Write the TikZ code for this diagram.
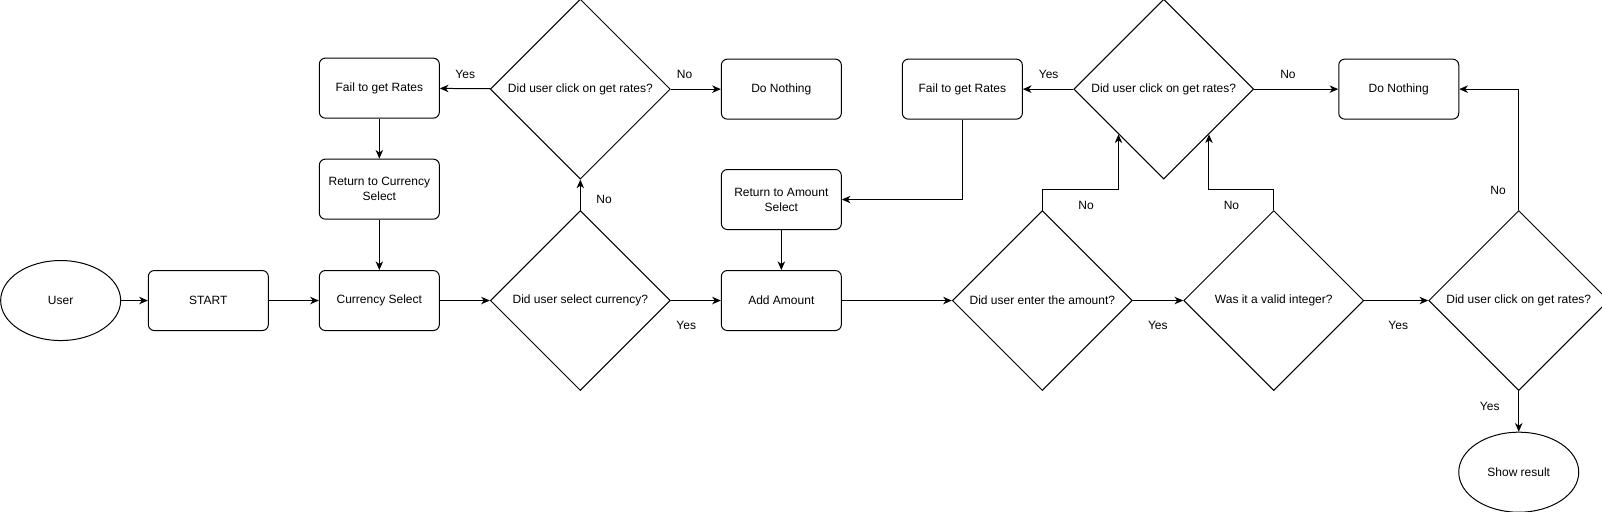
\documentclass[tikz,border=0pt]{standalone}
\usepackage{fontspec}
\setmainfont{Liberation Sans}
\usetikzlibrary{arrows.meta,positioning,shapes.geometric}

\begin{document}
\begin{tikzpicture}[>={Stealth[length=6.5pt,width=5.6pt,inset=2pt]}, line width=0.75pt, font=\fontsize{9pt}{11.25pt}\selectfont]
	\tikzstyle{rect}=[draw, rectangle, rounded corners=4.5pt, minimum width=90pt, minimum height=45pt, align=center, inner sep=0pt]
	\tikzstyle{circ}=[draw, ellipse, minimum width=90pt, minimum height=60pt, inner sep=0pt]
	\tikzstyle{dia}=[draw, diamond, minimum width=135pt, minimum height=135pt, inner sep=0pt]
	\tikzstyle{lbl}=[inner sep=0pt]

	\useasboundingbox (-45.5pt,-157.9pt) rectangle (1156pt,225.4pt);

	% main row
	\node[circ] (u) at (0,0) {User};
	\node[rect] (s) [right=20pt of u] {START};
	\node[rect] (cs) [right=37.5pt of s] {Currency Select};
	\node[dia] (d1) [right=37.5pt of cs] {Did user select currency?};
	\node[rect] (aa) [right=37.5pt of d1] {Add Amount};
	\node[dia] (d3) [right=82.5pt of aa] {Did user enter the amount?};
	\node[dia] (d4) [right=37.8pt of d3] {Was it a valid integer?};
	\node[dia] (d5) [right=48pt of d4] {Did user click on get rates?};
	\node[circ] (res) [below=30.5pt of d5] {Show result};

	% upper part
	\node[rect] (rc) [above=37.8pt of cs] {Return to Currency\\Select};
	\node[rect] (f1) [above=30pt of rc] {Fail to get Rates};
	\node[dia] (d2) [above=22.8pt of d1] {Did user click on get rates?};
	\node[rect] (n1) [right=37.5pt of d2] {Do Nothing};
	\node[rect] (ra) [above=30pt of aa] {Return to Amount\\Select};
	\node[rect] (f2) [right=45pt of n1] {Fail to get Rates};
	\node[dia] (d6) [right=37.8pt of f2] {Did user click on get rates?};
	\node[rect] (n2) [right=63pt of d6] {Do Nothing};

	% labels
	\node[lbl] (l1) at ([shift={(-18.45pt,11.25pt)}]d2.west) {Yes};
	\node[lbl] (l2) at ([shift={(10.3pt,11.25pt)}]d2.east) {No};
	\node[lbl] (l3) at ([shift={(17.8pt,7.8pt)}]d1.north) {No};
	\node[lbl] (l4) at ([shift={(11.55pt,-18.9pt)}]d1.east) {Yes};
	\node[lbl] (l5) at ([shift={(-18.45pt,11.25pt)}]d6.west) {Yes};
	\node[lbl] (l6) at ([shift={(25.3pt,11.25pt)}]d6.east) {No};
	\node[lbl] (l7) at ([shift={(32.8pt,3.75pt)}]d3.north) {No};
	\node[lbl] (l8) at ([shift={(-31.7pt,3.75pt)}]d4.north) {No};
	\node[lbl] (l9) at ([shift={(18.75pt,-18.6pt)}]d3.east) {Yes};
	\node[lbl] (l10) at ([shift={(25.5pt,-18.6pt)}]d4.east) {Yes};
	\node[lbl] (l11) at ([shift={(-15.45pt,15pt)}]d5.north) {No};
	\node[lbl] (l12) at ([shift={(-21.75pt,-11.5pt)}]d5.south) {Yes};

	\draw[->] (u) -- (s);
	\draw[->] (s) -- (cs);
	\draw[->] (cs) -- (d1);
	\draw[->] (d1) -- (aa);
	\draw[->] (d1) -- (d2);
	\draw[->] (d2) -- (f1);
	\draw[->] (d2) -- (n1);
	\draw[->] (f1) -- (rc);
	\draw[->] (rc) -- (cs);
	\draw[->] (d6) -- (f2);
	\draw[->] (d6) -- (n2);
	\draw[->] (f2) |- (ra);
	\draw[->] (ra) -- (aa);
	\draw[->] (aa) -- (d3);
	\draw[->] (d3) -- (d4);
	\draw[->] (d4) -- (d5);
	\draw[->] (d5) -- (res);
	\draw[->] (d5) |- (n2);
	\draw[->] (d3.north) -- ++(0,15.3pt) -| (d6.south west);
	\draw[->] (d4.north) -- ++(0,15.3pt) -| (d6.south east);
     \end{tikzpicture}
\end{document}
